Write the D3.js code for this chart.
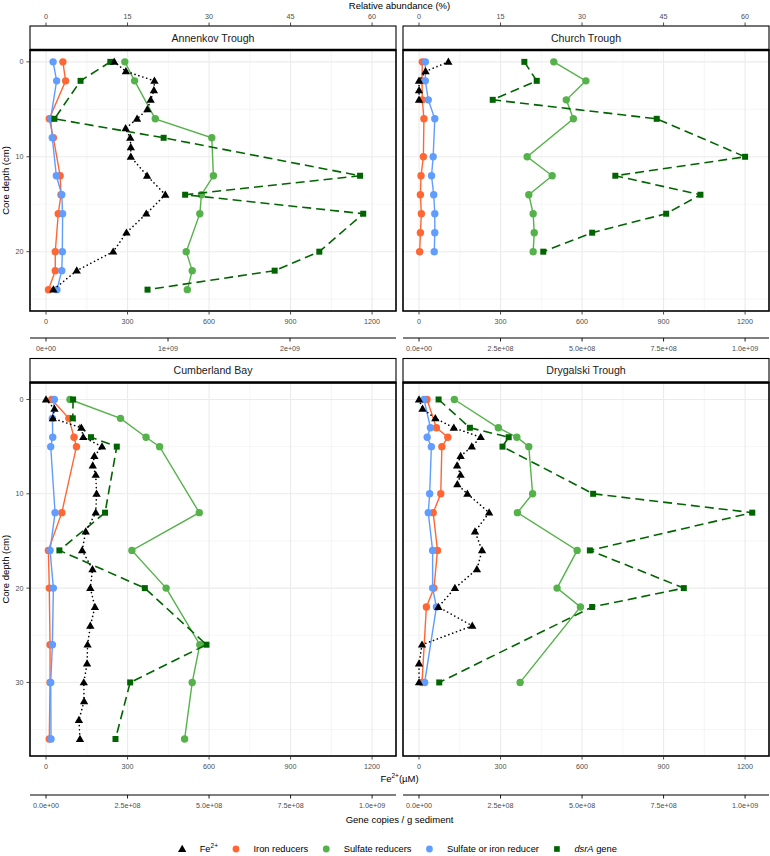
<!DOCTYPE html>
<html>
<head>
<meta charset="utf-8">
<script src="https://cdn.jsdelivr.net/npm/d3@7"></script>
<style>
  body { margin: 0; background: #fff; }
  text { font-family: "Liberation Sans", Arial, Helvetica, sans-serif; }
</style>
</head>
<body>
<svg id="chart" width="770" height="856"></svg>
<script>
// ---- data ----
// Fe2+ porewater profiles (depth cm, µM)
const annenkovFeDepth = [0, 1, 2, 3, 4, 5, 6, 7, 8, 9, 10, 12, 14, 16, 18, 20, 22, 24];
const annenkovFe = [251, 294, 399, 397, 385, 373, 335, 293, 310, 312, 312, 372, 439, 369, 296, 247, 113, 27];
const churchFeDepth = [0, 1, 2, 3, 4];
const churchFe = [108, 24, 0, 0, 0];
const cumberlandFeDepth = [0, 1, 2, 3, 4, 5, 6, 7, 8, 10, 12, 14, 16, 18, 20, 22, 24, 26, 28, 30, 32, 34, 36];
const cumberlandFe = [0, 31, 25, 130, 137, 206, 178, 172, 183, 186, 183, 146, 133, 171, 163, 180, 163, 153, 151, 139, 140, 121, 125];
const drygalskiFeDepth = [0, 1, 2, 3, 4, 5, 6, 7, 8, 9, 10, 12, 14, 16, 18, 20, 22, 24, 26, 28, 30];
const drygalskiFe = [0, 13, 60, 128, 227, 194, 153, 140, 153, 141, 178, 258, 206, 232, 213, 132, 71, 196, 11, 0, 0];

// relative abundance (%) and dsrA gene copies per g sediment
const annenkovDepth = [0, 2, 6, 8, 12, 14, 16, 20, 22, 24];
const annenkovIron = [3.1, 3.6, 0.6, 1.35, 2.6, 2.75, 2.25, 1.7, 1.7, 0.45];
const annenkovSulfate = [14.5, 16.3, 20.1, 30.5, 30.8, 28.6, 28.3, 25.8, 26.9, 26.0];
const annenkovEither = [1.3, 1.95, 0.85, 1.15, 1.9, 2.9, 3.05, 3.0, 2.9, 2.0];
const annenkovDsrA = [5.27e8, 2.83e8, 0.69e8, 9.64e8, 2.574e9, 1.14e9, 2.60e9, 2.24e9, 1.874e9, 8.32e8];

const churchDepth = [0, 2, 4, 6, 10, 12, 14, 16, 18, 20];
const churchIron = [0.6, 0.55, 0.6, 0.9, 0.8, 0.37, 0.25, 0.43, 0.25, 0.12];
const churchSulfate = [24.8, 30.7, 27.1, 28.4, 19.9, 24.5, 20.2, 21.0, 21.2, 21.0];
const churchEither = [1.16, 1.16, 1.7, 2.9, 2.6, 2.3, 2.7, 2.9, 2.9, 2.8];
const churchDsrA = [3.23e8, 3.61e8, 2.26e8, 7.29e8, 1.0e9, 6.02e8, 8.63e8, 7.58e8, 5.31e8, 3.81e8];

const cumberlandDepth = [0, 2, 4, 5, 12, 16, 20, 26, 30, 36];
const cumberlandIron = [1.05, 4.2, 5.15, 5.6, 2.9, 0.43, 0.6, 0.74, 0.74, 0.6];
const cumberlandSulfate = [4.4, 13.7, 18.4, 20.9, 28.2, 15.8, 22.1, 28.3, 26.9, 25.5];
const cumberlandEither = [1.53, 1.17, 1.23, 0.86, 1.66, 0.74, 1.35, 1.17, 0.86, 0.92];
const cumberlandDsrA = [0.83e8, 0.82e8, 1.38e8, 2.17e8, 1.81e8, 0.41e8, 3.03e8, 4.92e8, 2.58e8, 2.13e8];

const drygalskiDepth = [0, 3, 4, 5, 10, 12, 16, 20, 22, 30];
const drygalskiIron = [1.47, 3.2, 5.3, 4.2, 4.0, 2.6, 3.4, 2.75, 1.35, 0.55];
const drygalskiSulfate = [6.5, 14.6, 18.0, 20.2, 20.9, 18.1, 29.1, 25.4, 29.7, 18.6];
const drygalskiEither = [0.92, 2.1, 1.5, 2.27, 1.96, 1.7, 2.5, 2.5, 3.2, 1.04];
const drygalskiDsrA = [0.60e8, 1.56e8, 2.75e8, 2.56e8, 5.34e8, 1.022e9, 5.24e8, 8.12e8, 5.31e8, 0.62e8];

// tick values
const feTicks = [0, 300, 600, 900, 1200];
const feMinor = [150, 450, 750, 1050];
const relTicks = [0, 15, 30, 45, 60];
const depthTicks = [0, 10, 20, 30];
const depthMinor = [5, 15, 25, 35];

// ---- layout ----
const colors = { fe: "#000000", iron: "#FF6633", sulfate: "#55B24A", either: "#619CFF", dsrA: "#006400" };
const feDomain = [-59, 1288];   // µM, includes ggplot padding
const umPerPercent = 20;        // 60 % sits on 1200 µM
const panelW = 366;
const tickGrey = "#333333";
const labelGrey = "#4D4D4D";

const panels = [
  { site: "Annenkov Trough", x0: 30, y0: 50, y1: 311, depth: [-1.25, 26.25], left: true, top: true,
    fe: [annenkovFeDepth, annenkovFe], taxa: [annenkovDepth, annenkovIron, annenkovSulfate, annenkovEither, annenkovDsrA],
    genePerUM: 1e9 / 449, geneTicks: [0, 1e9, 2e9], geneDigits: 0, geneY: 338 },
  { site: "Church Trough", x0: 403, y0: 50, y1: 311, depth: [-1.25, 26.25], left: false, top: true,
    fe: [churchFeDepth, churchFe], taxa: [churchDepth, churchIron, churchSulfate, churchEither, churchDsrA],
    genePerUM: 1e9 / 1200, geneTicks: [0, 2.5e8, 5e8, 7.5e8, 1e9], geneDigits: 1, geneY: 338 },
  { site: "Cumberland Bay", x0: 30, y0: 382.5, y1: 756, depth: [-1.8, 37.8], left: true, top: false,
    fe: [cumberlandFeDepth, cumberlandFe], taxa: [cumberlandDepth, cumberlandIron, cumberlandSulfate, cumberlandEither, cumberlandDsrA],
    genePerUM: 1e9 / 1200, geneTicks: [0, 2.5e8, 5e8, 7.5e8, 1e9], geneDigits: 1, geneY: 795 },
  { site: "Drygalski Trough", x0: 403, y0: 382.5, y1: 756, depth: [-1.8, 37.8], left: false, top: false,
    fe: [drygalskiFeDepth, drygalskiFe], taxa: [drygalskiDepth, drygalskiIron, drygalskiSulfate, drygalskiEither, drygalskiDsrA],
    genePerUM: 1e9 / 1200, geneTicks: [0, 2.5e8, 5e8, 7.5e8, 1e9], geneDigits: 1, geneY: 795 }
];

function sci(v, digits) {
  return v.toExponential(digits).replace(/e([+-])(\d+)$/, (m, s, e) => "e" + s + (e.length < 2 ? "0" + e : e));
}

const svg = d3.select("#chart");

panels.forEach(p => {
  const x = d3.scaleLinear().domain(feDomain).range([p.x0, p.x0 + panelW]);
  const xRel = d3.scaleLinear().domain(feDomain.map(v => v / umPerPercent)).range(x.range());
  const xGene = d3.scaleLinear().domain(feDomain.map(v => v * p.genePerUM)).range(x.range());
  const y = d3.scaleLinear().domain(p.depth).range([p.y0, p.y1]);
  const dTicks = depthTicks.filter(d => d <= p.depth[1]);
  const dMinor = depthMinor.filter(d => d <= p.depth[1]);

  const g = svg.append("g");

  // grid
  g.append("g").selectAll("line").data(feMinor).join("line")
    .attr("x1", d => x(d)).attr("x2", d => x(d)).attr("y1", p.y0).attr("y2", p.y1)
    .attr("stroke", "#F0F0F0").attr("stroke-width", 0.6);
  g.append("g").selectAll("line").data(dMinor).join("line")
    .attr("y1", d => y(d)).attr("y2", d => y(d)).attr("x1", p.x0).attr("x2", p.x0 + panelW)
    .attr("stroke", "#F0F0F0").attr("stroke-width", 0.6);
  g.append("g").selectAll("line").data(feTicks).join("line")
    .attr("x1", d => x(d)).attr("x2", d => x(d)).attr("y1", p.y0).attr("y2", p.y1)
    .attr("stroke", "#EBEBEB").attr("stroke-width", 1.1);
  g.append("g").selectAll("line").data(dTicks).join("line")
    .attr("y1", d => y(d)).attr("y2", d => y(d)).attr("x1", p.x0).attr("x2", p.x0 + panelW)
    .attr("stroke", "#EBEBEB").attr("stroke-width", 1.1);

  // series
  const [tDepth, tIron, tSulf, tEither, tDsr] = p.taxa;
  const taxaSeries = [
    { key: "sulfate", vals: tSulf },
    { key: "iron", vals: tIron },
    { key: "either", vals: tEither }
  ];
  taxaSeries.forEach(s => {
    const pts = tDepth.map((d, i) => [xRel(s.vals[i]), y(d)]);
    g.append("path").attr("d", d3.line()(pts))
      .attr("fill", "none").attr("stroke", colors[s.key]).attr("stroke-width", 1.4);
    g.append("g").selectAll("circle").data(pts).join("circle")
      .attr("cx", d => d[0]).attr("cy", d => d[1]).attr("r", 3.7)
      .attr("fill", colors[s.key]);
  });

  const dsrPts = tDepth.map((d, i) => [xGene(tDsr[i]), y(d)]);
  g.append("path").attr("d", d3.line()(dsrPts))
    .attr("fill", "none").attr("stroke", colors.dsrA).attr("stroke-width", 1.6)
    .attr("stroke-dasharray", "9,5");
  g.append("g").selectAll("path").data(dsrPts).join("path")
    .attr("transform", d => `translate(${d[0]},${d[1]})`)
    .attr("d", d3.symbol(d3.symbolSquare, 36)())
    .attr("fill", colors.dsrA);

  const [fDepth, fVals] = p.fe;
  const fePts = fDepth.map((d, i) => [x(fVals[i]), y(d)]);
  g.append("path").attr("d", d3.line()(fePts))
    .attr("fill", "none").attr("stroke", colors.fe).attr("stroke-width", 1.6)
    .attr("stroke-linecap", "round").attr("stroke-dasharray", "0.1,4");
  g.append("g").selectAll("path").data(fePts).join("path")
    .attr("transform", d => `translate(${d[0]},${d[1] + 0.5})`)
    .attr("d", d3.symbol(d3.symbolTriangle, 30)())
    .attr("fill", colors.fe);

  // panel border
  g.append("rect").attr("x", p.x0).attr("y", p.y0).attr("width", panelW).attr("height", p.y1 - p.y0)
    .attr("fill", "none").attr("stroke", "#000").attr("stroke-width", 1.6);

  // strip
  const stripH = 24;
  g.append("rect").attr("x", p.x0).attr("y", p.y0 - stripH).attr("width", panelW).attr("height", stripH)
    .attr("fill", "#fff").attr("stroke", "#000").attr("stroke-width", 1.1);
  g.append("line").attr("x1", p.x0).attr("x2", p.x0 + panelW).attr("y1", p.y0).attr("y2", p.y0)
    .attr("stroke", "#000").attr("stroke-width", 2.4);
  g.append("text").attr("x", p.x0 + panelW / 2).attr("y", p.y0 - stripH / 2 + 3.8)
    .attr("text-anchor", "middle").attr("font-size", 10.6).attr("fill", "#1A1A1A").text(p.site);

  // top axis: relative abundance
  if (p.top) {
    const ty = p.y0 - stripH;
    g.append("g").selectAll("line").data(relTicks).join("line")
      .attr("x1", d => xRel(d)).attr("x2", d => xRel(d)).attr("y1", ty - 3.5).attr("y2", ty)
      .attr("stroke", tickGrey).attr("stroke-width", 0.9);
    g.append("g").selectAll("text").data(relTicks).join("text")
      .attr("x", d => xRel(d)).attr("y", ty - 7.5).attr("text-anchor", "middle")
      .attr("font-size", 7.2).attr("fill", labelGrey).text(d => d);
  }

  // y axis
  if (p.left) {
    g.append("g").selectAll("line").data(dTicks).join("line")
      .attr("x1", p.x0 - 3.5).attr("x2", p.x0).attr("y1", d => y(d)).attr("y2", d => y(d))
      .attr("stroke", tickGrey).attr("stroke-width", 0.9);
    g.append("g").selectAll("text").data(dTicks).join("text")
      .attr("x", p.x0 - 6.5).attr("y", d => y(d) + 2.5).attr("text-anchor", "end")
      .attr("font-size", 7.2).attr("fill", labelGrey).text(d => d);
    g.append("text")
      .attr("transform", `translate(8.5,${(p.y0 + p.y1) / 2}) rotate(-90)`)
      .attr("text-anchor", "middle").attr("font-size", 9.5).attr("fill", "#000").text("Core depth (cm)");
  }

  // bottom Fe axis
  g.append("g").selectAll("line").data(feTicks).join("line")
    .attr("x1", d => x(d)).attr("x2", d => x(d)).attr("y1", p.y1).attr("y2", p.y1 + 3.5)
    .attr("stroke", tickGrey).attr("stroke-width", 0.9);
  g.append("g").selectAll("text").data(feTicks).join("text")
    .attr("x", d => x(d)).attr("y", p.y1 + 12.5).attr("text-anchor", "middle")
    .attr("font-size", 7.2).attr("fill", labelGrey).text(d => d);

  // gene copies axis
  g.append("line").attr("x1", p.x0).attr("x2", p.x0 + panelW).attr("y1", p.geneY).attr("y2", p.geneY)
    .attr("stroke", "#000").attr("stroke-width", 1.2);
  g.append("g").selectAll("line").data(p.geneTicks).join("line")
    .attr("x1", d => xGene(d)).attr("x2", d => xGene(d)).attr("y1", p.geneY).attr("y2", p.geneY + 3.5)
    .attr("stroke", "#000").attr("stroke-width", 0.9);
  g.append("g").selectAll("text").data(p.geneTicks).join("text")
    .attr("x", d => xGene(d)).attr("y", p.geneY + 13).attr("text-anchor", "middle")
    .attr("font-size", 7.2).attr("fill", labelGrey).text(d => sci(d, p.geneDigits));
});

// shared axis titles
const midX = (30 + 403 + panelW) / 2;
svg.append("text").attr("x", midX).attr("y", 8.5).attr("text-anchor", "middle")
  .attr("font-size", 9.5).text("Relative abundance (%)");

const feTitle = svg.append("text").attr("x", midX).attr("y", 781.5).attr("text-anchor", "middle")
  .attr("font-size", 9.5);
feTitle.append("tspan").text("Fe");
feTitle.append("tspan").attr("dy", -4).attr("font-size", 6.5).text("2+");
feTitle.append("tspan").attr("dy", 4).text("(µM)");

svg.append("text").attr("x", midX).attr("y", 822.5).attr("text-anchor", "middle")
  .attr("font-size", 9.5).text("Gene copies / g sediment");

// legend
const legendItems = [
  { key: "fe", shape: "triangle", label: "Fe", sup: "2+" },
  { key: "iron", shape: "circle", label: "Iron reducers" },
  { key: "sulfate", shape: "circle", label: "Sulfate reducers" },
  { key: "either", shape: "circle", label: "Sulfate or iron reducer" },
  { key: "dsrA", shape: "square", label: "dsrA", italic: true, rest: " gene" }
];
const legendY = 849;
const legend = svg.append("g");
let lx = 0;
legendItems.forEach(it => {
  const item = legend.append("g").attr("transform", `translate(${lx},0)`);
  const sym = it.shape === "triangle" ? d3.symbol(d3.symbolTriangle, 30)
    : it.shape === "square" ? d3.symbol(d3.symbolSquare, 32)
    : d3.symbol(d3.symbolCircle, 36);
  item.append("path").attr("d", sym()).attr("fill", colors[it.key])
    .attr("transform", `translate(0,${legendY + (it.shape === "triangle" ? 0.5 : 0)})`);
  const t = item.append("text").attr("x", 17.5).attr("y", legendY + 3.2).attr("font-size", 9.3).attr("fill", "#000");
  t.append("tspan").attr("font-style", it.italic ? "italic" : null).text(it.label);
  if (it.sup) t.append("tspan").attr("dy", -4).attr("font-size", 6.5).text(it.sup);
  if (it.rest) t.append("tspan").text(it.rest);
  lx += 17.5 + t.node().getComputedTextLength() + 18;
});
const legendW = lx - 18;
legend.attr("transform", `translate(${midX - legendW / 2},0)`);
</script>
</body>
</html>
